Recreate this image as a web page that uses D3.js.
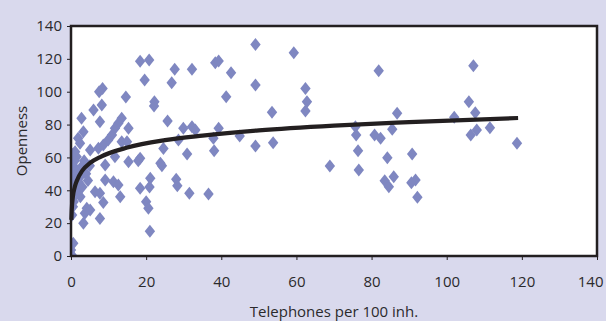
<!DOCTYPE html>
<html><head><meta charset="utf-8">
<script src="https://cdn.jsdelivr.net/npm/d3@7"></script>
<style>
html,body{margin:0;padding:0;background:#d9d9ed;}
svg{display:block;}
text{font-family:"Open Sans",sans-serif;fill:#2b2a2c;}
</style></head><body>
<svg id="chart" width="606" height="321"></svg>
<script>
// Scatter data: telephones per 100 inhabitants (x) vs openness (y)
const phones = [
 107.1,105.9,107.6,102,111.5,108,106.4,118.7,90.8,91.7,90.6,92.2,
 59.3,81.9,62.4,62.8,62.4,86.8,85.5,75.7,75.9,80.8,82.4,76.4,84.2,68.9,76.6,85.9,83.5,84.6,
 49.1,38.4,39.3,32.2,42.6,49.1,41.3,53.5,32.2,33.1,39.3,37.9,44.9,49.1,53.8,38.1,36.6,31.5,
 27.6,26.8,25.7,29.9,28.6,24.6,30.9,24.2,28,28.3,
 18.4,20.8,19.6,22.2,22.1,14.6,8.4,7.5,6,8.2,2.8,7.7,13.5,15.3,3.3,12.6,11.7,10.9,9.9,8.6,7.3,1.9,2.4,
 5.1,1.1,1.5,13.5,14.9,18.4,15.3,23.8,17.9,11.7,9.1,
 9.1,11.3,12.6,18.4,21.1,20.9,6.4,7.7,13.1,8.6,20,20.6,4.2,3.7,7.7,3.3,21,1.1,0.6,0,0.2,5.1,2.4,2.8,1.5,
 0.3,0.5,0.4,0.6,0.3,0.8,0.4,1,0.5,0.2,0.7,1.3,1.8,2,2.5,3,4,3.5,5,4.5
];
const openness = [
 115.8,93.9,87.2,84.4,78.1,76.7,73.6,68.6,62.1,46.3,44.6,35.7,
 123.7,112.8,102,93.9,88.3,86.9,77.1,78.7,73.6,73.6,71.6,64.1,59.8,54.8,52.3,48.3,45.8,42.2,
 128.8,117.7,118.7,113.6,111.6,104.1,97,87.5,78.7,76.7,77.7,71.6,73,67,69,64.1,37.7,38.2,
 113.6,105.5,82.2,77.7,70.6,65.5,62.1,55,46.7,42.8,
 118.6,119.3,107.1,93.9,91.3,96.8,102,100,88.9,91.9,83.8,81.7,83.8,77.7,75.7,80.8,77.7,73.6,70.6,67.6,65.6,71.6,68.6,
 64.5,63.5,60.4,69.6,69.6,59.5,57.4,56.4,58,60.4,55.4,
 46.3,45.2,43.2,41.2,47.3,42,39.1,38.2,36.1,32.5,33,29,29,26,22.9,19.9,15,39,7.7,3.7,0.6,28,48.3,54.4,52.3,
 25,30,35,42,45,50,55,58,62,40,33,44,40,45,36,42,50,58,55,46
];
// Trend line points
const trendX = [0.1,0.2,0.5,1,1.5,3,5,8,15,25,35,50,70,90,119];
const trendY = [22,28,36,42,45.5,52,56.5,60.5,66,70.5,73.3,76.5,79.4,81.5,84];
const xTicks = [0,20,40,60,80,100,120,140];
const yTicks = [0,20,40,60,80,100,120,140];
const xTitle = "Telephones per 100 inh.";
const yTitle = "Openness";

const svg = d3.select("#chart");
const L = 71, R = 597, T = 26, B = 256;
const x = d3.scaleLinear().domain([0,140]).range([L,R]);
const y = d3.scaleLinear().domain([0,140]).range([B,T]);

svg.append("rect").attr("x",L).attr("y",T).attr("width",R-L).attr("height",B-T)
  .attr("fill","#fff");

svg.append("clipPath").attr("id","clip").append("rect")
  .attr("x",L).attr("y",T-8).attr("width",R-L).attr("height",B-T+8);

const pts = phones.map((v,i)=>({x:v,y:openness[i]}));
const diamond = "M0,-6.5L5.2,0L0,6.5L-5.2,0Z";
svg.append("g").attr("clip-path","url(#clip)").selectAll("path").data(pts).join("path")
  .attr("d",diamond)
  .attr("transform",d=>`translate(${x(d.x)},${y(d.y)})`)
  .attr("fill","#7f87c1");

const trend = trendX.map((v,i)=>({x:v,y:trendY[i]}));
svg.append("path").datum(trend)
  .attr("d",d3.line().x(d=>x(d.x)).y(d=>y(d.y)).curve(d3.curveMonotoneX))
  .attr("fill","none").attr("stroke","#231f20").attr("stroke-width",4.2);

// axes
const xAxis = svg.append("g").attr("transform",`translate(0,${B})`)
  .call(d3.axisBottom(x).tickValues(xTicks).tickSize(4).tickPadding(16));
const yAxis = svg.append("g").attr("transform",`translate(${L},0)`)
  .call(d3.axisLeft(y).tickValues(yTicks).tickSize(4).tickPadding(5));
[xAxis,yAxis].forEach(g=>{
  g.select(".domain").remove();
  g.selectAll(".tick line").attr("stroke","#231f20").attr("stroke-width",1);
  g.selectAll("text").style("font-size","15px").attr("fill","#2b2a2c");
});
// keep the last x label inside the picture
xAxis.selectAll(".tick").filter(d=>d===140).select("text")
  .attr("text-anchor","end").attr("x",6);

svg.append("rect").attr("x",L).attr("y",T).attr("width",R-L).attr("height",B-T)
  .attr("fill","none").attr("stroke","#231f20").attr("stroke-width",2.5);

svg.append("text").attr("x",(L+R)/2).attr("y",317).attr("text-anchor","middle")
  .style("font-size","15px").text(xTitle);
svg.append("text").attr("transform",`translate(27,${(T+B)/2}) rotate(-90)`)
  .attr("text-anchor","middle").style("font-size","15px").text(yTitle);
</script>
</body></html>
